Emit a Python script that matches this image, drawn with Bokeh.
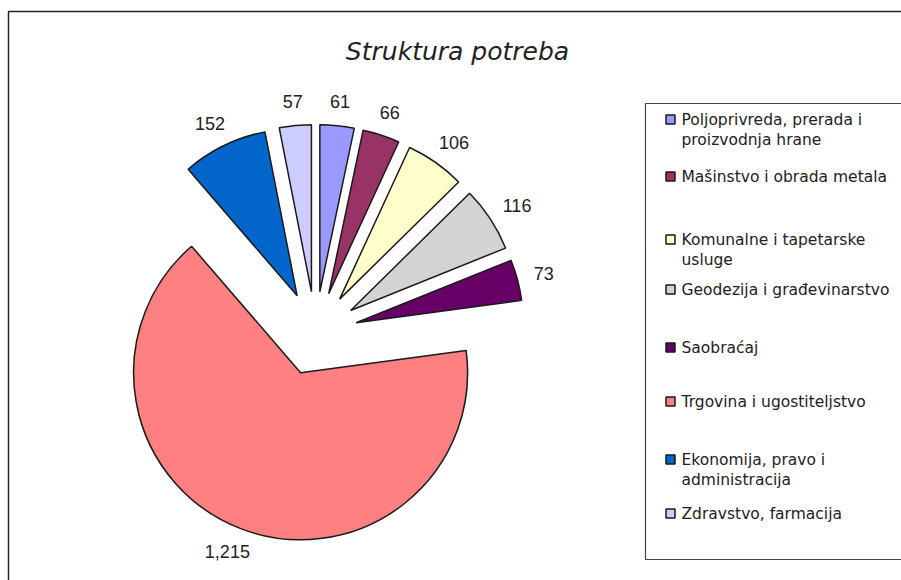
import math
from bokeh.plotting import figure
from bokeh.models import Range1d
from bokeh.core.properties import value
from bokeh.embed import file_html
from bokeh.resources import INLINE

# ---------------- data ----------------
title_text = "Struktura potreba"
categories = [
    "Poljoprivreda, prerada i proizvodnja hrane",
    "Mašinstvo i obrada metala",
    "Komunalne i tapetarske usluge",
    "Geodezija i građevinarstvo",
    "Saobraćaj",
    "Trgovina i ugostiteljstvo",
    "Ekonomija, pravo i administracija",
    "Zdravstvo, farmacija",
]
legend_lines = [
    ["Poljoprivreda, prerada i", "proizvodnja hrane"],
    ["Mašinstvo i obrada metala"],
    ["Komunalne i tapetarske", "usluge"],
    ["Geodezija i građevinarstvo"],
    ["Saobraćaj"],
    ["Trgovina i ugostiteljstvo"],
    ["Ekonomija, pravo i", "administracija"],
    ["Zdravstvo, farmacija"],
]
values = [61, 66, 106, 116, 73, 1215, 152, 57]
value_labels = ["61", "66", "106", "116", "73", "1,215", "152", "57"]
colors = ["#9999FF", "#993366", "#FFFFCC", "#D2D3D4",
          "#660066", "#FF8080", "#0066CC", "#CCCCFF"]

# ---------------- layout ----------------
W, H = 901, 580
OFF = 0


def X(px):
    return px - OFF


def Y(py):
    return (H + OFF) - py


p = figure(width=W, height=H, output_backend="svg", toolbar_location=None,
           x_range=Range1d(0, W), y_range=Range1d(0, H),
           min_border=0, outline_line_color=None)
p.axis.visible = False
p.grid.visible = False
p.background_fill_color = "white"
p.border_fill_color = "white"

# outer chart border (extends past the right / bottom edge)
p.quad(left=X(8), right=X(920), top=Y(11), bottom=Y(600),
       fill_color=None, line_color="#222222", line_width=1.5)

# title
p.text(x=[X(457)], y=[Y(51)], text=[title_text], text_align="center",
       text_baseline="middle", text_font=value("DejaVu Sans"),
       text_font_style="italic", text_font_size="25px", text_color="#222222")

# pie
CX, CY = X(315), Y(333)
R = 167
D = 42
total = float(sum(values))
cum = 0.0
for i, v in enumerate(values):
    t1 = cum / total * 2 * math.pi
    t2 = (cum + v) / total * 2 * math.pi
    tm = (t1 + t2) / 2
    cum += v
    ox = CX + D * math.sin(tm)
    oy = CY + D * math.cos(tm)
    p.wedge(x=[ox], y=[oy], radius=R, start_angle=math.pi / 2 - t1,
            end_angle=math.pi / 2 - t2, direction="clock",
            fill_color=colors[i], line_color="#1a1a1a", line_width=1.5)
    # data label
    lab = value_labels[i]
    hw = sum(5 if c == "," else 10 for c in lab) / 2
    hh = 7
    L0 = D + R + 17
    lx = CX + math.sin(tm) * (L0 + hw)
    ly = CY + math.cos(tm) * (L0 + hh)
    p.text(x=[lx], y=[ly], text=[lab], text_align="center",
           text_baseline="middle", text_font=value("Liberation Sans"),
           text_font_size="18px", text_color="#222222")

# legend box
p.quad(left=X(645), right=X(920), top=Y(103), bottom=Y(559),
       fill_color=None, line_color="#444444", line_width=1.2)
entry_y = [119, 176, 239, 289, 347, 401, 459, 513]
for i, lines in enumerate(legend_lines):
    yc = entry_y[i]
    p.rect(x=[X(670)], y=[Y(yc)], width=9, height=9, fill_color=colors[i],
           line_color="#1a1a1a", line_width=1.5)
    for j, ln in enumerate(lines):
        p.text(x=[X(681)], y=[Y(yc + 20.5 * j)], text=[ln], text_align="left",
               text_baseline="middle", text_font=value("DejaVu Sans"),
               text_font_size="15.5px", text_color="#222222")

open("out.html", "w").write(file_html(p, INLINE))
